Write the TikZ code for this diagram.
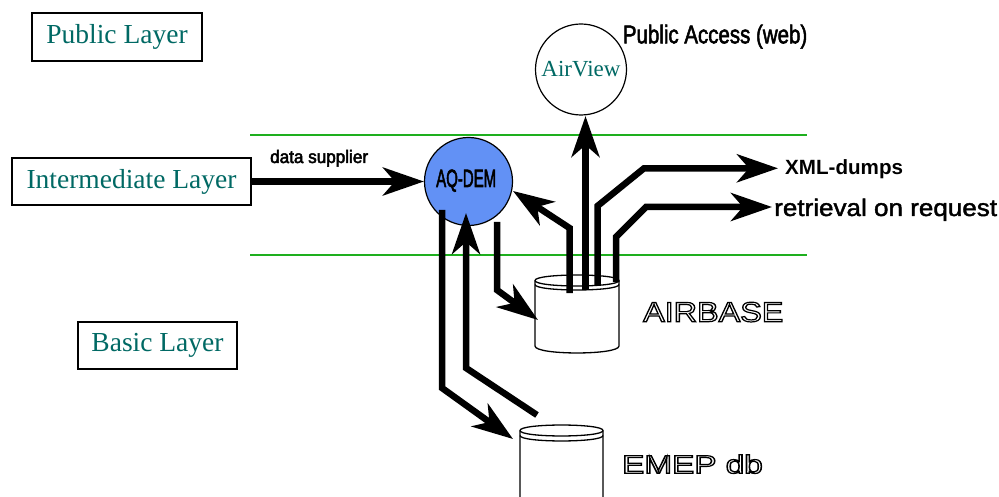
\documentclass[tikz,border=0pt]{standalone}
\usepackage{fontspec}
\setmainfont{Liberation Serif}
\setsansfont{Liberation Sans}
\usepackage{graphicx}
\usetikzlibrary{arrows.meta}
\definecolor{tealtxt}{RGB}{0,105,100}
\definecolor{aqblue}{RGB}{98,145,245}
\definecolor{lgreen}{RGB}{30,175,30}
\newcommand{\hollowtxt}[2]{\special{pdf:literal direct #1 w 1 Tr}#2\special{pdf:literal direct 0 Tr}}
\newcommand{\outlinetxt}[2]{\special{pdf:literal direct #1 w 2 Tr}#2\special{pdf:literal direct 0 Tr}}
\begin{document}
\begin{tikzpicture}[x=1pt,y=-1pt,
  layerbox/.style={draw, line width=1.6pt, fill=white, inner sep=0pt, text=tealtxt, font=\fontsize{27.5}{30}\selectfont},
  flow/.style={line width=6.5pt, -{Stealth[length=41pt,width=28pt,inset=12pt]}, line join=miter},
  greenline/.style={draw=lgreen, line width=2pt},
  sanslbl/.style={inner sep=0pt, anchor=base west},
  cyl/.style={draw, line width=1.3pt, fill=white},
  bubble/.style={circle, draw, line width=1.2pt, inner sep=0pt},
  ]
\useasboundingbox (0,0) rectangle (999,497);

% layer boxes
\node[layerbox, minimum width=170pt, minimum height=48pt] (public) at (117,37) {Public Layer};
\node[layerbox, minimum width=239pt, minimum height=47pt] (inter) at (131.5,181.5) {Intermediate Layer};
\node[layerbox, minimum width=159pt, minimum height=47pt] (basic) at (157.5,345.5) {Basic Layer};

% green layer lines
\coordinate (g1a) at (250,135); \coordinate (g1b) at (807,135);
\coordinate (g2a) at (250,255); \coordinate (g2b) at (807,255);
\draw[greenline] (g1a) -- (g1b);
\draw[greenline] (g2a) -- (g2b);

% AQ-DEM and AirView
\node[bubble, fill=aqblue, minimum size=88pt] (aqdem) at (468.5,181.5) {};
\node[bubble, fill=white, minimum size=91pt, text=tealtxt, font=\fontsize{23}{23}\selectfont] (airview) at (581,69.5) {AirView};

% AIRBASE cylinder
\filldraw[cyl] (535,280.5) -- (535,346) .. controls (535,355.3) and (619,355.3) .. (619,346) -- (619,280.5) .. controls (619,273.2) and (535,273.2) .. (535,280.5) -- cycle;
\draw[line width=1.3pt] (535,280.5) .. controls (535,287.8) and (619,287.8) .. (619,280.5);
\draw[line width=1.3pt] (535,284.5) .. controls (535,291.8) and (619,291.8) .. (619,284.5);
\coordinate (airbase) at (577,313);

% EMEP cylinder
\filldraw[cyl] (520,430.5) -- (520,510) -- (603,510) -- (603,430.5) .. controls (603,423.2) and (520,423.2) .. (520,430.5) -- cycle;
\draw[line width=1.3pt] (520,430.5) .. controls (520,437.8) and (603,437.8) .. (603,430.5);
\draw[line width=1.3pt] (520,435.5) .. controls (520,442.8) and (603,442.8) .. (603,435.5);
\coordinate (emep) at (561.5,465);

% labels
\node[sanslbl, font=\sffamily\fontsize{18}{18}\selectfont] (dslbl) at (270,163) {\scalebox{0.95}[1]{\outlinetxt{0.5}{data supplier}}};
\node[sanslbl, font=\sffamily\fontsize{25}{25}\selectfont] (aqlbl) at (436,187) {\scalebox{0.6}[1]{\outlinetxt{0.7}{AQ-DEM}}};
\node[sanslbl, font=\sffamily\fontsize{25.6}{26}\selectfont] (publbl) at (622.7,43.3) {\scalebox{0.8}[1]{\outlinetxt{0.6}{Public Access (web)}}};
\node[sanslbl, font=\sffamily\bfseries\fontsize{20.6}{21}\selectfont] (xmllbl) at (785,175) {XML-dumps};
\node[sanslbl, font=\sffamily\fontsize{24}{24}\selectfont] (retlbl) at (774,216) {\scalebox{1.085}[1]{\outlinetxt{0.4}{retrieval on request}}};
\node[sanslbl, font=\sffamily\fontsize{28}{28}\selectfont] (airbaselbl) at (643,321.7) {\scalebox{1.155}[1]{\hollowtxt{1.2}{AIRBASE}}};
\node[sanslbl, font=\sffamily\fontsize{25.6}{26}\selectfont] (emeplbl) at (622,473.3) {\scalebox{1.3}[1]{\hollowtxt{1.2}{EMEP db}}};

% connector points
\coordinate (e1s) at (442,210); \coordinate (e1c) at (442,388); \coordinate (e1t) at (513,439);
\coordinate (e2s) at (537,415); \coordinate (e2c) at (466,368); \coordinate (e2t) at (466,213);
\coordinate (a1s) at (497,222); \coordinate (a1c) at (497,290); \coordinate (a1t) at (538,320);
\coordinate (a2s) at (569.5,293); \coordinate (a2c) at (569.5,228); \coordinate (a2t) at (513,191);
\coordinate (vs) at (585.5,290); \coordinate (vt) at (585.5,116);
\coordinate (xs) at (597.5,285); \coordinate (xc1) at (597.5,206); \coordinate (xc2) at (644,168.3); \coordinate (xt) at (778,168.3);
\coordinate (rs) at (616,282); \coordinate (rc1) at (616,237); \coordinate (rc2) at (646,207); \coordinate (rt) at (772,207);

% connectors
\draw[flow] (inter.east) -- (aqdem.west);
\draw[flow] (e1s) -- (e1c) -- (e1t);
\draw[flow] (e2s) -- (e2c) -- (e2t);
\draw[flow] (a1s) -- (a1c) -- (a1t);
\draw[flow] (a2s) -- (a2c) -- (a2t);
\draw[flow] (vs) -- (vt);
\draw[flow] (xs) -- (xc1) -- (xc2) -- (xt);
\draw[flow] (rs) -- (rc1) -- (rc2) -- (rt);
\end{tikzpicture}
\end{document}
